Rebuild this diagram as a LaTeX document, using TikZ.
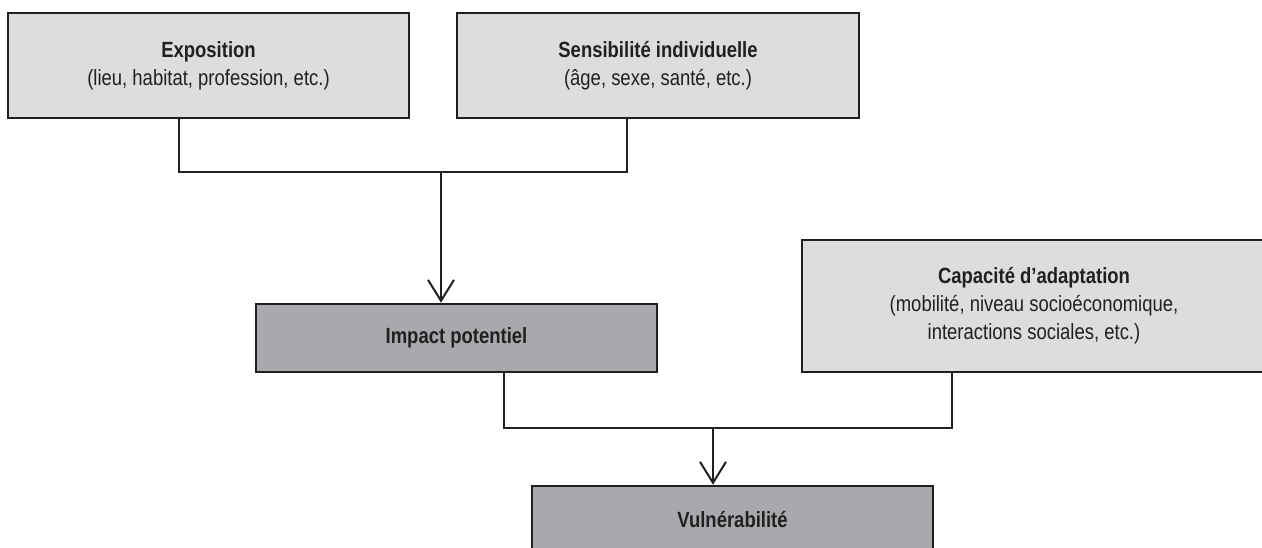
\documentclass[tikz,border=0pt]{standalone}
\usepackage{fontspec}
\setmainfont{Liberation Sans}[FakeStretch=0.84]
\usetikzlibrary{arrows.meta}
\definecolor{boxlight}{HTML}{DCDDDF}
\definecolor{boxdark}{HTML}{A7A9AC}
\definecolor{ink}{HTML}{231F20}
\tikzset{
	factorbox/.style={draw=ink, line width=1.3pt, fill=boxlight, inner sep=0pt, align=center, text=ink, font=\fontsize{11}{14}\selectfont},
	outcomebox/.style={factorbox, fill=boxdark},
	wire/.style={draw=ink, line width=1pt},
	feed/.style={wire, -{Straight Barb[length=10.5pt,width=13pt]}}
}

\begin{document}
\begin{tikzpicture}[x=0.5pt, y=-0.5pt]
		%%%%% START %%%%%
		\useasboundingbox (0, 0) rectangle (1262, 547);
		
		\node[factorbox, minimum width=200.5pt, minimum height=52.5pt] (expo) at (208.5, 65.5) {\textbf{Exposition}\\(lieu, habitat, profession, etc.)};
		\node[factorbox, minimum width=201pt, minimum height=52.5pt] (sens) at (658, 65.5) {\textbf{Sensibilité individuelle}\\(âge, sexe, santé, etc.)};
		
		\node[outcomebox, minimum width=200.5pt, minimum height=34pt] (impact) at (456.5, 338) {\textbf{Impact potentiel}};
		\node[factorbox, minimum width=232pt, minimum height=66pt] (capa) at (1034, 306) {\textbf{Capacité d’adaptation}\\(mobilité, niveau socioéconomique,\\interactions sociales, etc.)};
		
		\node[outcomebox, minimum width=200.5pt, minimum height=34pt] (vuln) at (732.5, 520) {\textbf{Vulnérabilité}};
		
		\coordinate (upjoin) at (441, 172);
		\coordinate (lowjoin) at (713, 428);
		
		\draw[wire] ([xshift=-14.75pt]expo.south) |- (upjoin) -| ([xshift=-15.5pt]sens.south);
		\draw[feed] (upjoin) -- (upjoin |- impact.north);
		
		\draw[wire] ([xshift=23.5pt]impact.south) |- (lowjoin) -| ([xshift=-41pt]capa.south);
		\draw[feed] (lowjoin) -- (lowjoin |- vuln.north);
		
		%%%%% END %%%%%
	\end{tikzpicture}
\end{document}
